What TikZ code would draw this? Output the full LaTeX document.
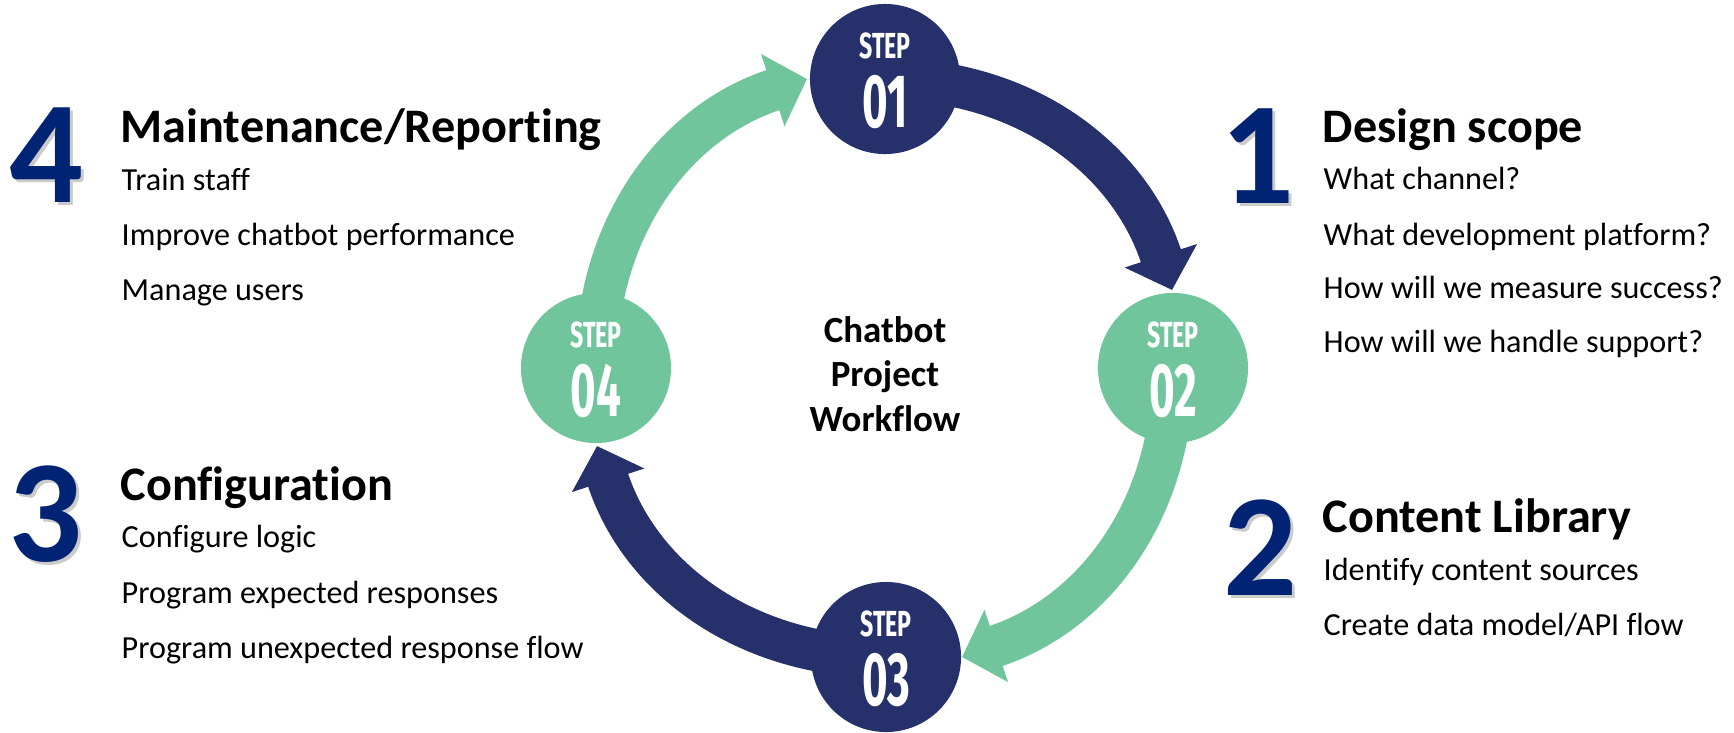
\documentclass[tikz,border=0pt]{standalone}
\usepackage{fontspec}
\setmainfont{Carlito}[Ligatures=NoCommon]
\newfontfamily\stepfont[FakeStretch=0.64]{Fira Sans}
\newfontfamily\numfont[FakeStretch=0.58]{Fira Sans}
\usetikzlibrary{arrows.meta}

\definecolor{navy}{RGB}{38,48,107}
\definecolor{mint}{RGB}{113,197,157}
\definecolor{bignum}{RGB}{0,36,115}

\begin{document}
\begin{tikzpicture}[x=0.01cm, y=0.01cm,
	stepdot/.style={circle, minimum size=1.5cm, inner sep=0pt},
	band/.style={line width=0.42cm, -{Triangle[length=0.36cm, width=0.74cm]}},
	steplbl/.style={text=white, anchor=base, inner sep=0pt, font=\stepfont\bfseries\fontsize{10.3}{12}\selectfont},
	stepnum/.style={text=white, anchor=base, inner sep=0pt, font=\numfont\bfseries\fontsize{21.5}{24}\selectfont},
	bignr/.style={anchor=base west, inner sep=0pt, text=bignum, font=\bfseries\fontsize{41.5}{44}\selectfont},
	bigshade/.style={bignr, text=black!45, opacity=0.45},
	head/.style={anchor=base west, inner sep=0pt, font=\bfseries\fontsize{13.7}{15}\selectfont},
	item/.style={anchor=base west, inner sep=0pt, font=\fontsize{9.15}{10}\selectfont}]
	\useasboundingbox (0,0) rectangle (1734,732);
	
	% arrow tips
	\coordinate (t1) at (1172,442);
	\coordinate (t2) at (962,75);
	\coordinate (t3) at (597,286);
	\coordinate (t4) at (807,653);
	
	\coordinate (s1c) at (885,653);
	\coordinate (s2c) at (1173,364);
	\coordinate (s3c) at (886,75);
	\coordinate (s4c) at (596,364);
	
	% the ring of arrows
	\draw[band, navy] (s1c) to[out=0, in=108] (t1);
	\draw[band, mint] (s2c) to[out=-90, in=18] (t2);
	\draw[band, navy] (s3c) to[out=180, in=-72] (t3);
	\draw[band, mint] (s4c) to[out=90, in=198] (t4);
	
	% step circles
	\node[stepdot, fill=navy] (s1) at (s1c){};
	\node[stepdot, fill=mint] (s2) at (s2c){};
	\node[stepdot, fill=navy] (s3) at (s3c){};
	\node[stepdot, fill=mint] (s4) at (s4c){};
	
	\node[steplbl] (l1) at (885,674){STEP};
	\node[stepnum] (n1) at (885,605){01};
	\node[steplbl] (l2) at (1173,385){STEP};
	\node[stepnum] (n2) at (1173,316){02};
	\node[steplbl] (l3) at (886,96){STEP};
	\node[stepnum] (n3) at (886,27){03};
	\node[steplbl] (l4) at (596,385){STEP};
	\node[stepnum] (n4) at (596,316){04};
	
	\node[align=center, inner sep=0pt, font=\bfseries\fontsize{10.5}{12.6}\selectfont] (title) at (885,358){Chatbot\\Project\\Workflow};
	
	% 1: top right
	\node[bigshade] (big1s) at (1223,526){1};
	\node[bignr] (big1) at (1220,529){1};
	\node[head] (h1) at (1322,590){Design scope};
	\node[item] (i11) at (1323,543){What channel?};
	\node[item] (i12) at (1323,487){What development platform?};
	\node[item] (i13) at (1323,434){How will we measure success?};
	\node[item] (i14) at (1323,380){How will we handle support?};
	
	% 2: bottom right
	\node[bigshade] (big2s) at (1226,134){2};
	\node[bignr] (big2) at (1223,137){2};
	\node[head] (h2) at (1322,200){Content Library};
	\node[item] (i21) at (1323,152){Identify content sources};
	\node[item] (i22) at (1323,97){Create data model/API flow};
	
	% 3: bottom left
	\node[bigshade] (big3s) at (11,168){3};
	\node[bignr] (big3) at (8,171){3};
	\node[head] (h3) at (120,232){Configuration};
	\node[item] (i31) at (121,185){Configure logic};
	\node[item] (i32) at (121,129){Program expected responses};
	\node[item] (i33) at (121,74){Program unexpected response flow};
	
	% 4: top left
	\node[bigshade] (big4s) at (12,527){4};
	\node[bignr] (big4) at (9,530){4};
	\node[head] (h4) at (120,590){Maintenance/Reporting};
	\node[item] (i41) at (121,542){Train staff};
	\node[item] (i42) at (121,487){Improve chatbot performance};
	\node[item] (i43) at (121,432){Manage users};
\end{tikzpicture}
\end{document}
